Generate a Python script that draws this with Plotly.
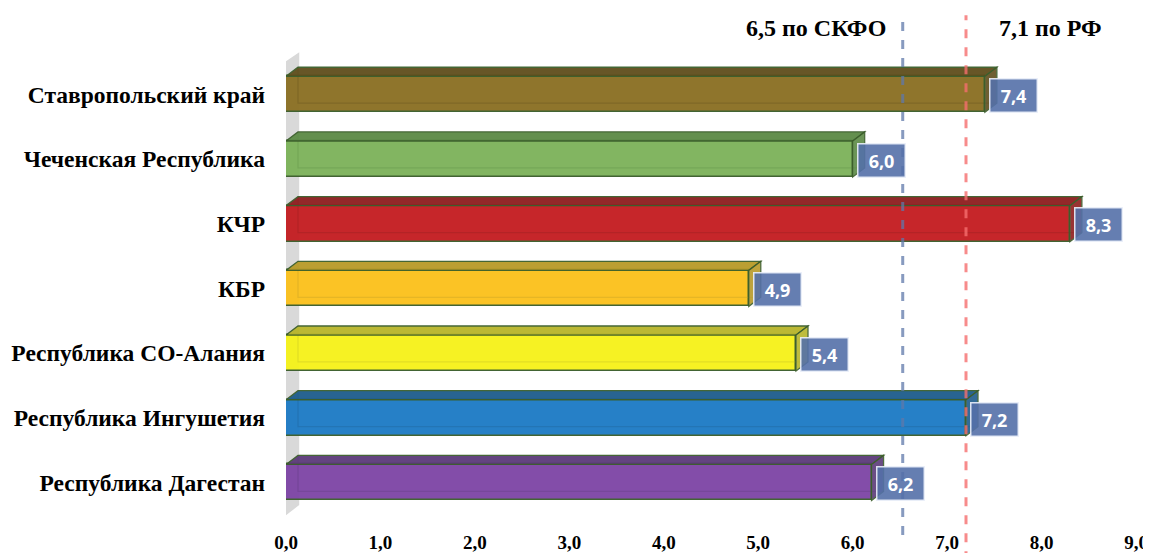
import plotly.graph_objects as go

categories = ["Ставропольский край", "Чеченская Республика", "КЧР", "КБР",
              "Республика СО-Алания", "Республика Ингушетия", "Республика Дагестан"]
values = [7.4, 6.0, 8.3, 4.9, 5.4, 7.2, 6.2]
value_labels = ["7,4", "6,0", "8,3", "4,9", "5,4", "7,2", "6,2"]
front_colors = ["#8B7024", "#7DB35B", "#C41E22", "#FBC11D", "#F6F21B", "#1E7BC5", "#7E46A6"]
top_colors = ["#5F4E1C", "#5B8A45", "#8E1D1E", "#B89A28", "#B8B52A", "#1D5C8C", "#5C3A7A"]
x_ticks = [0, 1, 2, 3, 4, 5, 6, 7, 8, 9]
x_tick_labels = ["0,0", "1,0", "2,0", "3,0", "4,0", "5,0", "6,0", "7,0", "8,0", "9,0"]
skfo_value, skfo_label = 6.53, "6,5 по СКФО"
rf_value, rf_label = 7.2, "7,1 по РФ"

idx = list(range(len(categories)))
H = 0.556   # bar thickness (category units)
DX = 0.127  # depth in x (data units)
DY = 0.14   # depth in y (category units)
EDGE = "#3B5E2B"

fig = go.Figure()
fig.add_trace(go.Bar(
    x=values, y=idx, orientation="h", width=H,
    marker=dict(color=front_colors, line=dict(color=EDGE, width=1.5)),
    opacity=0.96, hoverinfo="skip", showlegend=False))

shapes = []
# grey back wall
shapes.append(dict(type="path", xref="x", yref="y", layer="below",
                   path="M -0.03 -0.48 L 0.14 -0.65 L 0.14 6.35 L -0.03 6.54 Z",
                   fillcolor="#D9D9D9", line=dict(width=0)))
for i, v in enumerate(values):
    yt = i - H / 2
    yb = i + H / 2
    # inner back edges (seen through)
    shapes.append(dict(type="path", xref="x", yref="y", layer="above",
                       path=f"M {DX} {yt-DY} L {DX} {yb-DY} L {v+DX} {yb-DY}",
                       line=dict(color=top_colors[i], width=1.2), opacity=0.3))
    # top face
    shapes.append(dict(type="path", xref="x", yref="y", layer="above",
                       path=f"M 0 {yt} L {DX} {yt-DY} L {v+DX} {yt-DY} L {v} {yt} Z",
                       fillcolor=top_colors[i], opacity=0.95,
                       line=dict(color=EDGE, width=1.3)))
    # side face
    shapes.append(dict(type="path", xref="x", yref="y", layer="above",
                       path=f"M {v} {yt} L {v+DX} {yt-DY} L {v+DX} {yb-DY} L {v} {yb} Z",
                       fillcolor=top_colors[i], opacity=0.9,
                       line=dict(color=EDGE, width=1.3)))

# reference lines
shapes.append(dict(type="line", xref="x", yref="paper", x0=skfo_value, x1=skfo_value,
                   y0=-0.036, y1=1.072, layer="above",
                   line=dict(color="rgba(95,120,170,0.75)", width=3, dash="dash")))
shapes.append(dict(type="line", xref="x", yref="paper", x0=rf_value, x1=rf_value,
                   y0=-0.09, y1=1.072, layer="above",
                   line=dict(color="rgba(245,110,110,0.8)", width=3, dash="dash")))

annotations = []
for i, (v, t) in enumerate(zip(values, value_labels)):
    annotations.append(dict(x=v, y=i + 0.02, xref="x", yref="y", text=f"<b>{t}</b>",
                            showarrow=False, xanchor="left", xshift=4,
                            width=44, height=30,
                            bgcolor="rgba(84,112,168,0.9)",
                            bordercolor="rgba(235,240,250,0.9)", borderwidth=1.5,
                            font=dict(family="Open Sans", size=18, color="white")))
annotations.append(dict(x=5.61, y=1.045, xref="x", yref="paper", text=f"<b>{skfo_label}</b>",
                        showarrow=False, yanchor="middle",
                        font=dict(family="Liberation Serif", size=24, color="black")))
annotations.append(dict(x=8.09, y=1.045, xref="x", yref="paper", text=f"<b>{rf_label}</b>",
                        showarrow=False, yanchor="middle",
                        font=dict(family="Liberation Serif", size=24, color="black")))

fig.update_layout(
    width=1143, height=545,
    margin=dict(l=278, r=15, t=41, b=35),
    paper_bgcolor="white", plot_bgcolor="white",
    shapes=shapes, annotations=annotations,
    bargap=0,
    xaxis=dict(range=[0, 9], tickvals=x_ticks, ticktext=[f"<b>{t}</b>" for t in x_tick_labels],
               showgrid=False, zeroline=False, showline=False, ticks="",
               automargin=False, ticklabelstandoff=11,
               tickfont=dict(family="Liberation Serif", size=19, color="black")),
    yaxis=dict(range=[6.55, -0.7], tickvals=idx, ticktext=[f"<b>{c}</b>" for c in categories],
               showgrid=False, zeroline=False, showline=False, ticks="",
               automargin=False, ticklabelstandoff=20,
               tickfont=dict(family="Liberation Serif", size=23.5, color="black")),
)

fig.write_html("out.html")
